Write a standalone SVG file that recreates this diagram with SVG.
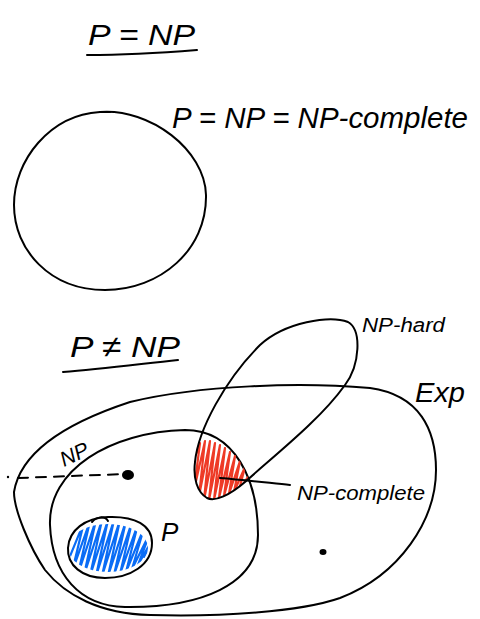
<svg xmlns="http://www.w3.org/2000/svg" width="480" height="619" viewBox="0 0 480 619">
<style>
.ln{fill:none;stroke:#000;stroke-width:2;stroke-linecap:round;stroke-linejoin:round}
.t{font-family:"Liberation Sans",Arial,sans-serif;fill:#000;font-style:italic}
.blue{fill:none;stroke:#0a6cf5;stroke-width:2.2;stroke-linejoin:round}
.red{fill:none;stroke:#ee3a26;stroke-width:2.2;stroke-linejoin:round}
</style>
<defs>
<clipPath id="cP"><ellipse cx="108" cy="548" rx="40" ry="24"/></clipPath>
<clipPath id="cH"><path d="M195,462 C198,430 225,380 260,345 C285,322 330,315 348,322 C362,330 360,365 345,385 C320,420 275,455 245,482 C230,495 215,502 207,498 C197,492 193,478 195,462 Z"/></clipPath>
<clipPath id="cN"><path d="M50,525 C48,470 110,432 185,430 C235,430 258,480 258,535 C258,585 200,608 125,607 C80,606 52,575 50,525 Z"/></clipPath>
</defs>

<g id="title-eq">
<text class="t" x="88" y="45" font-size="30" textLength="107" lengthAdjust="spacingAndGlyphs">P = NP</text>
<path class="ln" d="M87,55 C120,55 160,53 197,50"/>
</g>

<g id="circle-all">
<path class="ln" d="M100,112 C150,108 205,150 206,195 C207,250 160,290 105,290 C50,290 14,250 14,205 C14,160 50,115 100,112 Z"/>
<path class="ln" d="M100,112 L110,112" stroke-width="3"/>
<text class="t" x="172" y="128" font-size="30" textLength="296" lengthAdjust="spacingAndGlyphs">P = NP = NP-complete</text>
</g>

<g id="title-neq">
<text class="t" x="70" y="357" font-size="30" textLength="110" lengthAdjust="spacingAndGlyphs">P ≠ NP</text>
<path class="ln" d="M63,372 C100,369 140,364 178,360"/>
</g>

<g id="exp">
<path class="ln" d="M14,492 C20,455 60,425 130,402 C200,385 300,382 370,388 C420,395 436,430 436,470 C436,520 400,575 340,598 C300,612 220,617 150,615 C100,614 65,595 45,570 C30,548 14,510 14,492 Z"/>
<text class="t" x="415" y="402" font-size="28" textLength="50" lengthAdjust="spacingAndGlyphs">Exp</text>
</g>

<g id="np">
<path class="ln" d="M50,525 C48,470 110,432 185,430 C235,430 258,480 258,535 C258,585 200,608 125,607 C80,606 52,575 50,525 Z"/>
<text class="t" x="64" y="467" font-size="21" transform="rotate(-25 64 467)">NP</text>
<ellipse cx="128" cy="475" rx="6" ry="5" fill="#000"/>
</g>

<g id="p">
<g clip-path="url(#cP)">
<path class="blue" d="M66,566 L84,522 L72,572 L90,521 L78,574 L96,520 L84,575 L102,520 L90,576 L108,520 L96,576 L114,520 L102,576 L120,520 L108,576 L126,521 L114,575 L132,522 L120,574 L138,524 L126,572 L144,528 L132,569 L150,533 L138,565 L152,540 L144,558"/>
</g>
<path class="ln" d="M108,517 C135,516 152,525 152,543 C152,565 130,578 105,578 C82,578 67,565 68,548 C69,530 85,518 108,517 Z"/>
<path class="ln" d="M92,522 C97,516 105,516 108,521"/>
<text class="t" x="161" y="541" font-size="26">P</text>
</g>

<g id="np-hard">
<g clip-path="url(#cH)"><g clip-path="url(#cN)">
<path class="red" d="M190,470 L200,443 L194,490 L205,441 L199,496 L210,441 L204,500 L215,443 L209,500 L220,445 L214,500 L225,448 L219,498 L230,452 L224,496 L235,456 L229,494 L240,461 L234,492 L245,467 L239,490 L250,474 L244,488"/>
</g></g>
<path class="ln" d="M195,462 C198,430 225,380 260,345 C285,322 330,315 348,322 C362,330 360,365 345,385 C320,420 275,455 245,482 C230,495 215,502 207,498 C197,492 193,478 195,462 Z"/>
<text class="t" x="362" y="332" font-size="20" textLength="83" lengthAdjust="spacingAndGlyphs">NP-hard</text>
</g>

<g id="np-complete-label">
<text class="t" x="297" y="500" font-size="21" textLength="128" lengthAdjust="spacingAndGlyphs">NP-complete</text>
</g>

<g id="dot">
<ellipse cx="323" cy="552" rx="3.5" ry="3" fill="#000"/>
</g>

<g id="connectors">
<circle cx="8" cy="477" r="1.2" fill="#000"/>
<path class="ln" d="M18,478 L125,474" stroke-dasharray="10,8"/>
<path class="ln" d="M220,478 C245,480 270,483 290,485"/>
</g>
</svg>
